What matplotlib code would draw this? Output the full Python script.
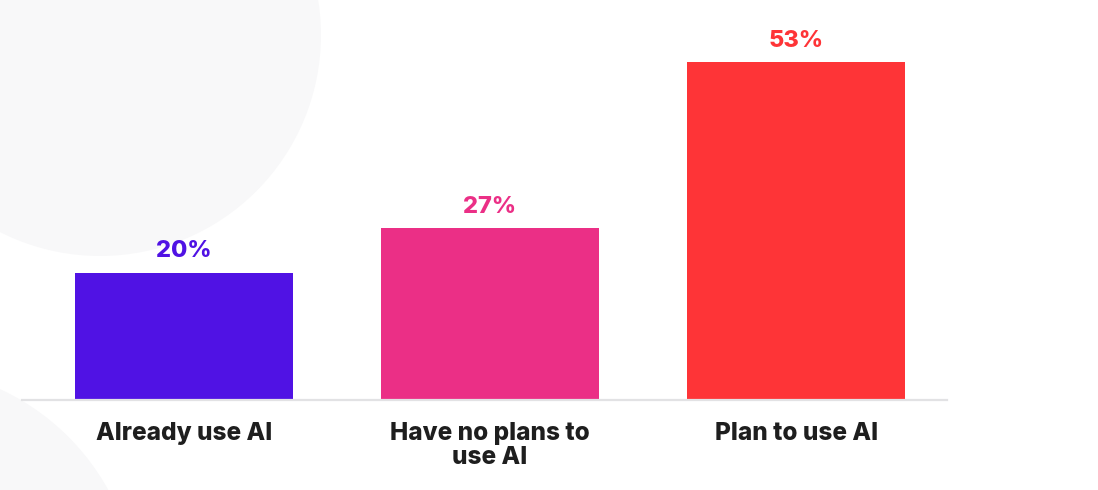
import matplotlib
matplotlib.use("Agg")
from matplotlib import pyplot as plt
from matplotlib.patches import Circle

categories = ["Already use AI", "Have no plans to\nuse AI", "Plan to use AI"]
values = [20, 27, 53]
value_labels = ["20%", "27%", "53%"]
colors = ["#5012E4", "#EB2F86", "#FE3437"]

plt.rcParams["font.family"] = ["Inter", "DejaVu Sans"]

fig = plt.figure(figsize=(10.98, 4.90), dpi=100)
fig.patch.set_facecolor("white")

# soft background circles, in pixel space
bg = fig.add_axes([0, 0, 1, 1], zorder=0)
bg.set_xlim(0, 1098)
bg.set_ylim(490, 0)
bg.axis("off")
bg.add_patch(Circle((100, 35), 221, color="#f8f8f9", lw=0))
bg.add_patch(Circle((-100, 605), 238, color="#f8f8f9", lw=0))

ax = fig.add_axes([22 / 1098, 90 / 490, 925 / 1098, 400 / 490], zorder=1)
ax.patch.set_alpha(0)
x = range(len(values))
bars = ax.bar(x, values, width=0.712, color=colors, zorder=2)
ax.set_xlim(-0.529, 2.493)
ax.set_ylim(0, 62.8)

for b, lab, c in zip(bars, value_labels, colors):
    ax.annotate(lab, (b.get_x() + b.get_width() / 2, b.get_height()),
                xytext=(0, 11), textcoords="offset points",
                ha="center", va="baseline", fontsize=17,
                fontweight="heavy", color=c)

ax.set_xticks(list(x))
ax.set_xticklabels(categories, fontsize=17.5, fontweight="heavy",
                   color="#1e1e1e", linespacing=1.05)
ax.tick_params(axis="x", length=0, pad=16)
ax.set_yticks([])
for s in ["top", "left", "right"]:
    ax.spines[s].set_visible(False)
ax.spines["bottom"].set_color("#e2e2e4")
ax.spines["bottom"].set_linewidth(1.6)

plt.savefig("out.png", dpi=100)
